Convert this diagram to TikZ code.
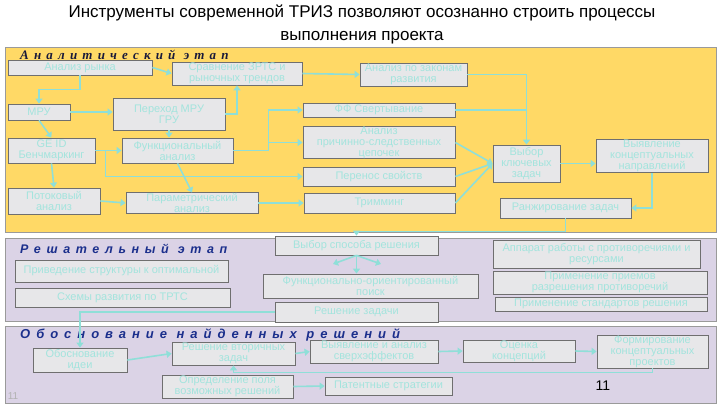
\documentclass[tikz,border=0pt]{standalone}
\usepackage{fontspec}
\setmainfont{Liberation Sans}
\newfontfamily\hdserif{Liberation Serif}
\usetikzlibrary{arrows.meta}
\definecolor{panY}{HTML}{FFD966}
\definecolor{panL}{HTML}{DBD3E6}
\definecolor{bxfill}{HTML}{E7E7E9}
\definecolor{bxtext}{HTML}{A3E4DD}
\definecolor{conn}{HTML}{8FDFD8}
\definecolor{hdblue}{HTML}{1B2F8C}
\definecolor{hdblack}{HTML}{1A1A3A}
\definecolor{bord}{HTML}{6F6F6F}
\tikzset{
 bx/.style={draw=bord, line width=0.8pt, fill=bxfill, text=bxtext, align=center, inner sep=0.5pt, font=\fontsize{11}{11}\selectfont},
 arr/.style={draw=conn, line width=1.6pt, -{Triangle[length=5pt,width=7pt]}},
 ln/.style={draw=conn, line width=1.6pt},
 panel/.style={draw=bord!70, line width=0.8pt},
 hd/.style={anchor=west, inner sep=0pt},
}
\begin{document}
\begin{tikzpicture}[x=1pt,y=-1pt]
\useasboundingbox (0,0) rectangle (720,405);
\fill[white] (0,0) rectangle (720,405);
% title
\node[font=\fontsize{17}{23}\selectfont, align=center] (title) at (362,24) {Инструменты современной ТРИЗ позволяют осознанно строить процессы\\выполнения проекта};
% panels
\draw[panel, fill=panY] (5,47) rectangle (716,232);
\draw[panel, fill=panL] (5,238) rectangle (716,321);
\draw[panel, fill=panL] (5,326) rectangle (716,403);
% headers
\node[hd, text=hdblack, font=\hdserif\bfseries\itshape\fontsize{13}{14}\selectfont\addfontfeature{LetterSpace=40}] (h1) at (20,55) {Аналитический этап};
\node[hd, text=hdblue, font=\bfseries\itshape\fontsize{12.5}{14}\selectfont\addfontfeature{LetterSpace=45}] (h2) at (20,249) {Решательный этап};
\node[hd, text=hdblue, font=\bfseries\itshape\fontsize{13}{14}\selectfont\addfontfeature{LetterSpace=46}] (h3) at (20,335) {Обоснование найденных решений};
% section 1 boxes
\node[bx, minimum width=144pt, minimum height=15pt] (rynok) at (80,67.5) {Анализ рынка};
\node[bx, minimum width=130pt, minimum height=23pt] (sravn) at (237,73.5) {Сравнение ЗРТС и\\рыночных трендов};
\node[bx, minimum width=107pt, minimum height=23pt] (zakony) at (413.5,74.5) {Анализ по законам\\развития};
\node[bx, minimum width=62pt, minimum height=16pt] (mru) at (39,112) {МРУ};
\node[bx, minimum width=112pt, minimum height=32pt] (perehod) at (169,114) {Переход МРУ\\ГРУ};
\node[bx, minimum width=152pt, minimum height=14pt] (ff) at (379,110) {ФФ Свертывание};
\node[bx, minimum width=87pt, minimum height=25pt] (geid) at (51.5,150.5) {GE ID\\Бенчмаркинг};
\node[bx, minimum width=111pt, minimum height=25pt] (func) at (177.5,150.5) {Функциональный\\анализ};
\node[bx, minimum width=152pt, minimum height=31pt] (prich) at (379,142.5) {Анализ\\причинно-следственных\\цепочек};
\node[bx, minimum width=152pt, minimum height=19pt] (perenos) at (379,176.5) {Перенос свойств};
\node[bx, minimum width=67pt, minimum height=37pt] (vybor) at (526.5,163.5) {Выбор\\ключевых\\задач};
\node[bx, minimum width=112pt, minimum height=32pt] (vyyav) at (652,156) {Выявление\\концептуальных\\направлений};
\node[bx, minimum width=92pt, minimum height=26pt] (potok) at (54,201) {Потоковый\\анализ};
\node[bx, minimum width=132pt, minimum height=20pt] (param) at (192,203) {Параметрический\\анализ};
\node[bx, minimum width=151pt, minimum height=20pt] (trim) at (379.5,203) {Тримминг};
\node[bx, minimum width=131pt, minimum height=20pt] (rang) at (565.5,208) {Ранжирование задач};
% section 2 boxes
\node[bx, minimum width=213pt, minimum height=22pt] (priv) at (121.5,271) {Приведение структуры к оптимальной};
\node[bx, minimum width=215pt, minimum height=19pt] (shemy) at (122.5,297.5) {Схемы развития по ТРТС};
\node[bx, minimum width=163pt, minimum height=19pt] (sposob) at (356.5,245.5) {Выбор способа решения};
\node[bx, minimum width=215pt, minimum height=24pt] (fop) at (370.5,286) {Функционально-ориентированный\\поиск};
\node[bx, minimum width=163pt, minimum height=20pt] (resh) at (356.5,312) {Решение задачи};
\node[bx, minimum width=207pt, minimum height=28pt] (apparat) at (596.5,254) {Аппарат работы с противоречиями и\\ресурсами};
\node[bx, minimum width=214pt, minimum height=23pt] (priem) at (600,282.5) {Применение приемов\\разрешения противоречий};
\node[bx, minimum width=212pt, minimum height=14pt] (stand) at (601,304) {Применение стандартов решения};
% section 3 boxes
\node[bx, minimum width=94pt, minimum height=24pt] (obosn) at (80,360) {Обоснование\\идеи};
\node[bx, minimum width=123pt, minimum height=23pt] (vtor) at (233.5,353.5) {Решение вторичных\\задач};
\node[bx, minimum width=128pt, minimum height=23pt] (raskr) at (374,351.5) {Выявление и анализ\\сверхэффектов};
\node[bx, minimum width=112pt, minimum height=22pt] (ocenka) at (519,351) {Оценка\\концепций};
\node[bx, minimum width=111pt, minimum height=33pt] (form) at (652.5,351.5) {Формирование\\концептуальных\\проектов};
\node[bx, minimum width=131pt, minimum height=23pt] (opred) at (227.5,386.5) {Определение поля\\возможных решений};
\node[bx, minimum width=127pt, minimum height=18pt] (patent) at (388.5,386) {Патентные стратегии};
% page numbers
\node[font=\fontsize{14}{14}\selectfont] (pg) at (603,386) {11};
\node[text=gray!60, font=\fontsize{10}{10}\selectfont] (pg2) at (13,396) {11};
% connectors section 1
\draw[arr] (rynok.east) -- (sravn.west);
\draw[arr] (rynok.south) -- ++(0,14) -| (mru.north);
\draw[arr] (mru.south) -- (geid.north);
\draw[arr] (mru.east) -- (perehod.west |- mru.east);
\draw[arr] (perehod.east) -| (sravn.south);
\draw[arr] (sravn.east) -- (zakony.west);
\draw[arr] (zakony.east) -| (vybor.north);
\draw[ln] (ff.east) -- (vybor.north |- ff.east);
\draw[arr] (func.east) -- ++(35,0) coordinate (j1) |- (ff.west);
\draw[arr] (j1) |- (prich.west);
\draw[arr] (geid.east) -- (func.west);
\draw[arr] (geid.east) -- ++(10,0) |- (perenos.west);
\draw[arr] (geid.south) -- (potok.north);
\draw[arr] (perehod.south) -- (perehod.south |- func.north);
\draw[arr] (func.south) -- (param.north);
\draw[arr] (potok.east) -- (param.west);
\draw[arr] (param.east) -- (trim.west);
\draw[arr] (prich.east) -- (vybor.west);
\draw[arr] (perenos.east) -- (vybor.west);
\draw[arr] (trim.east) -- (vybor.west);
\draw[arr] (vybor.east) -- (vyyav.west |- vybor.east);
\draw[arr] (vyyav.south) |- (rang.east);
\draw[arr] (rang.south) -- ++(0,13) -| (sposob.north);
% section 2
\coordinate (fanL) at (333,264);
\coordinate (fanR) at (381,264);
\draw[arr] (sposob.south) -- (sposob.south |- fop.north);
\draw[arr] (sposob.south) -- (fanL);
\draw[arr] (sposob.south) -- (fanR);
\draw[arr] (resh.west) -| (obosn.north);
% section 3
\draw[arr] (obosn.east) -- (vtor.west);
\draw[arr] (vtor.east) -- (raskr.west);
\draw[arr] (raskr.east) -- (ocenka.west);
\draw[arr] (ocenka.east) -- (form.west);
\draw[arr] (form.south) -- ++(0,4) -| (vtor.south);
\draw[arr] (opred.east) -- (patent.west);
\end{tikzpicture}
\end{document}
